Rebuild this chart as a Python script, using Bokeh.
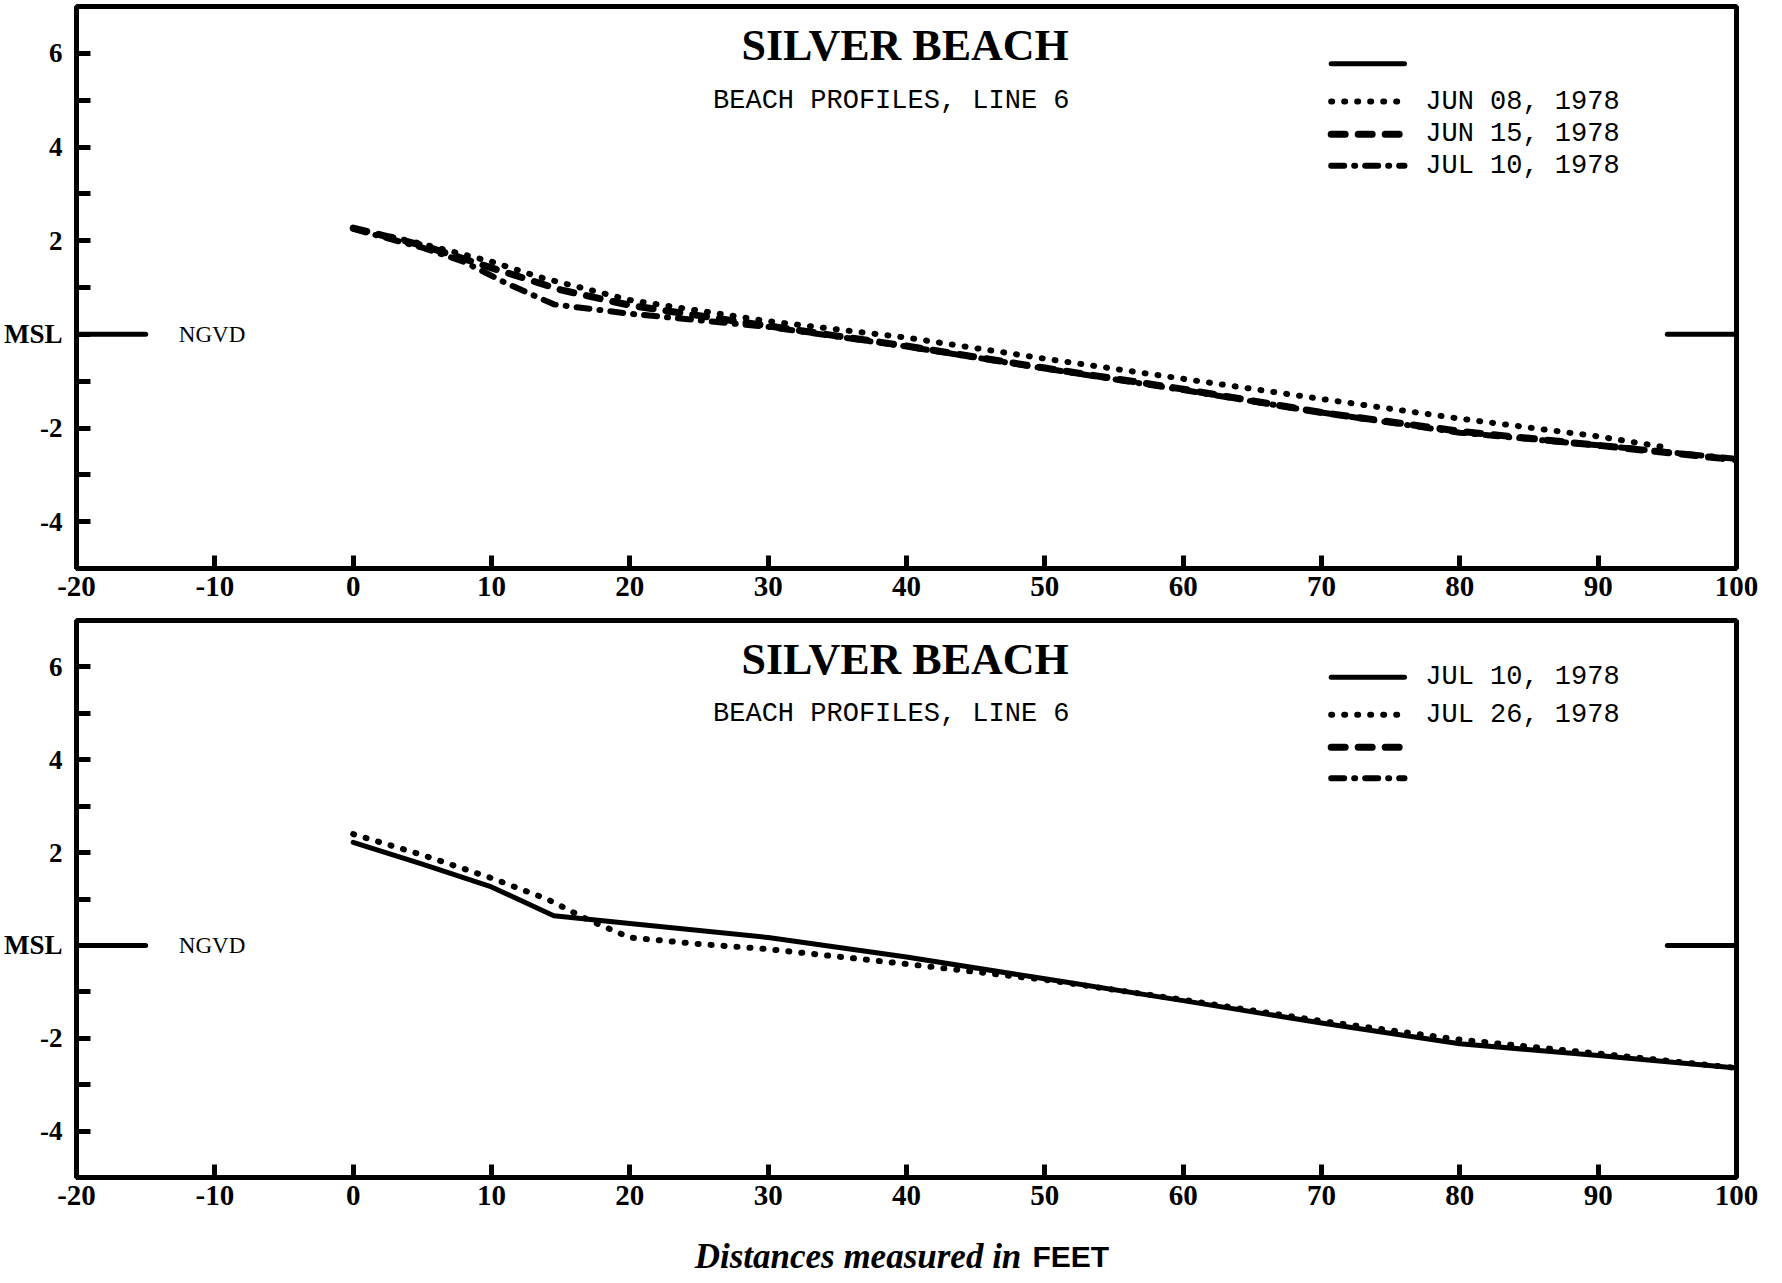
from bokeh.plotting import figure
from bokeh.models import Range1d, FixedTicker, Label
from bokeh.layouts import column
from bokeh.embed import file_html
from bokeh.resources import INLINE
from bokeh.core.properties import value

# ---------------- data (feet) ----------------
x_ticks = [-20, -10, 0, 10, 20, 30, 40, 50, 60, 70, 80, 90, 100]
x_tick_labels = ["-20", "-10", "0", "10", "20", "30", "40", "50", "60", "70", "80", "90", "100"]
y_ticks = [-4, -2, 0, 2, 4, 6]
y_tick_labels = ["-4", "-2", "MSL", "2", "4", "6"]
y_minor = [-3, -1, 1, 3, 5]

# Top panel
top_x_jun08 = [0, 5, 10, 13.5, 20, 30, 40, 50, 60, 70, 80, 90, 95]
top_y_jun08 = [2.27, 1.93, 1.55, 1.22, 0.73, 0.28, -0.07, -0.52, -0.95, -1.38, -1.80, -2.18, -2.42]
top_x_jun15 = [0, 5, 10, 15, 20, 25, 30, 40, 50, 60, 70, 80, 90, 100]
top_y_jun15 = [2.27, 1.90, 1.42, 0.95, 0.62, 0.40, 0.18, -0.25, -0.72, -1.17, -1.67, -2.07, -2.37, -2.68]
top_x_jul10 = [0, 5, 8, 11, 14.5, 20, 25, 30, 40, 50, 60, 70, 80, 90, 100]
top_y_jul10 = [2.25, 1.85, 1.55, 1.10, 0.64, 0.44, 0.30, 0.16, -0.26, -0.73, -1.19, -1.67, -2.10, -2.37, -2.66]
top_legend_labels = ["", "JUN 08, 1978", "JUN 15, 1978", "JUL 10, 1978"]

# Bottom panel
bot_x_jul10 = [0, 5, 10, 14.5, 20, 30, 40, 50, 60, 70, 80, 90, 100]
bot_y_jul10 = [2.22, 1.75, 1.26, 0.64, 0.47, 0.17, -0.25, -0.72, -1.19, -1.67, -2.12, -2.37, -2.64]
bot_x_jul26 = [0, 5, 10, 14, 17, 20, 25, 30, 40, 50, 60, 70, 80, 90, 100]
bot_y_jul26 = [2.40, 1.95, 1.45, 1.00, 0.55, 0.17, 0.03, -0.08, -0.40, -0.74, -1.17, -1.63, -2.03, -2.33, -2.64]
bot_legend_labels = ["JUL 10, 1978", "JUL 26, 1978", "", ""]

title_text = "SILVER BEACH"
subtitle_text = "BEACH PROFILES, LINE 6"
axis_title_italic = "Distances measured in"
axis_title_unit = "FEET"

# MSL reference marks
msl_left_x = [-20, -15]
msl_right_x = [95, 100]
msl_y = 0

legend_rows_y = [5.78, 4.97, 4.27, 3.6]
legend_x = [70.7, 76.0]
legend_text_x = 77.5

SERIF = "Liberation Serif"
MONO = "Liberation Mono"

STYLES = {
    "solid": dict(line_dash="solid", line_width=5, line_cap="round"),
    "dotted": dict(line_dash="1 12", line_width=6, line_cap="round"),
    "dashed": dict(line_dash="14 13", line_width=7, line_cap="round"),
    "dashdot": dict(line_dash="13 10 1 10", line_width=6, line_cap="round"),
}


def make_panel(height, b_left, b_right, b_top, b_bottom, series, legend_styles, legend_labels):
    p = figure(width=1766, height=height, x_range=Range1d(-20, 100), y_range=Range1d(-5, 7),
               output_backend="svg", toolbar_location=None, title=None,
               min_border_left=b_left, min_border_right=b_right,
               min_border_top=b_top, min_border_bottom=b_bottom)
    p.background_fill_color = "white"
    p.border_fill_color = "white"
    p.grid.visible = False
    p.outline_line_color = "black"
    p.outline_line_width = 5

    xa = p.xaxis[0]
    xa.ticker = FixedTicker(ticks=x_ticks)
    xa.major_label_overrides = dict(zip(x_ticks, x_tick_labels))
    xa.axis_line_width = 5
    xa.major_tick_in = 13
    xa.major_tick_out = 0
    xa.major_tick_line_width = 5
    xa.minor_tick_line_color = None
    xa.major_label_standoff = 8
    xa.major_label_text_font = SERIF
    xa.major_label_text_font_style = "bold"
    xa.major_label_text_font_size = "29px"
    xa.major_label_text_color = "black"

    ya = p.yaxis[0]
    ya.ticker = FixedTicker(ticks=y_ticks, minor_ticks=y_minor)
    ya.major_label_overrides = dict(zip(y_ticks, y_tick_labels))
    ya.axis_line_width = 5
    ya.major_tick_in = 14
    ya.major_tick_out = 0
    ya.major_tick_line_width = 5
    ya.minor_tick_in = 14
    ya.minor_tick_out = 0
    ya.minor_tick_line_width = 5
    ya.major_label_standoff = 14
    ya.major_label_text_font = SERIF
    ya.major_label_text_font_style = "bold"
    ya.major_label_text_font_size = "27px"
    ya.major_label_text_color = "black"

    # MSL marks
    p.line(msl_left_x, [msl_y, msl_y], line_color="black", line_width=5, line_cap="round")
    p.line(msl_right_x, [msl_y, msl_y], line_color="black", line_width=5, line_cap="round")
    p.add_layout(Label(x=-12.6, y=msl_y, text="NGVD", text_align="left",
                       text_baseline="middle", text_font=SERIF,
                       text_font_size="23px", text_color="black"))

    # titles
    p.add_layout(Label(x=39.9, y=6.17, text=title_text, text_align="center",
                       text_baseline="middle", text_font=SERIF, text_font_style="bold",
                       text_font_size="44px", text_color="black"))
    p.add_layout(Label(x=38.9, y=4.98, text=subtitle_text, text_align="center",
                       text_baseline="middle", text_font=MONO,
                       text_font_size="27px", text_color="black"))

    # data series
    for xs, ys, style in series:
        p.line(xs, ys, line_color="black", line_join="round", **STYLES[style])

    # legend (manual)
    for row_y, style in zip(legend_rows_y, legend_styles):
        p.line(legend_x, [row_y, row_y], line_color="black", **STYLES[style])
    p.text(x=[legend_text_x] * len(legend_labels), y=legend_rows_y, text=legend_labels,
           text_font=value(MONO), text_font_size="27px", text_baseline="middle",
           text_align="left", text_color="black")
    return p


p1 = make_panel(610, 71, 24, 6, 42,
                [(top_x_jun08, top_y_jun08, "dotted"),
                 (top_x_jun15, top_y_jun15, "dashed"),
                 (top_x_jul10, top_y_jul10, "dashdot")],
                ["solid", "dotted", "dashed", "dashdot"], top_legend_labels)

p2 = make_panel(609, 76, 30, 10, 42,
                [(bot_x_jul10, bot_y_jul10, "solid"),
                 (bot_x_jul26, bot_y_jul26, "dotted")],
                ["solid", "dotted", "dashed", "dashdot"], bot_legend_labels)

# strip below for the axis title
p3 = figure(width=1766, height=62, x_range=Range1d(-20, 100), y_range=Range1d(0, 1),
            output_backend="svg", toolbar_location=None, title=None,
            min_border_left=76, min_border_right=30, min_border_top=0, min_border_bottom=0)
p3.axis.visible = False
p3.grid.visible = False
p3.outline_line_color = None
p3.background_fill_color = "white"
p3.border_fill_color = "white"
p3.add_layout(Label(x=48.3, y=0.4, text=axis_title_italic, text_align="right",
                    text_baseline="middle", text_font=SERIF, text_font_style="bold italic",
                    text_font_size="35px", text_color="black"))
p3.add_layout(Label(x=49.1, y=0.4, text=axis_title_unit, text_align="left",
                    text_baseline="middle", text_font="Liberation Sans", text_font_style="bold",
                    text_font_size="30px", text_color="black"))

layout = column(p1, p2, p3, spacing=0)
open("out.html", "w").write(file_html(layout, INLINE))
